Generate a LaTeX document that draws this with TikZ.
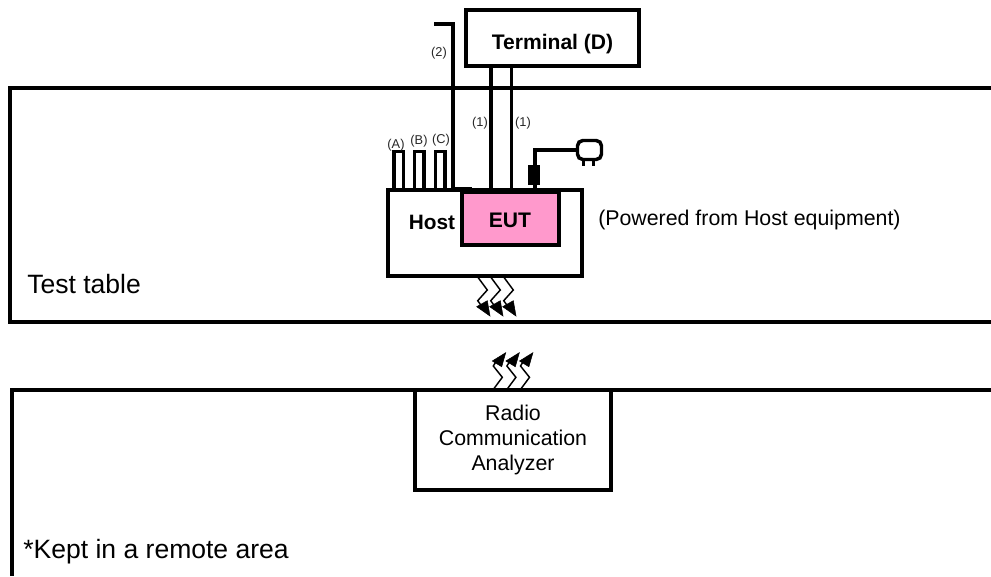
\documentclass[tikz,border=0pt]{standalone}
\usepackage{fontspec}
\setmainfont{Liberation Sans}
\definecolor{eutpink}{RGB}{255,153,204}
\tikzset{x=0.75pt,y=-0.75pt,
 frame/.style={draw=black,line width=3pt},
 cable/.style={draw=black,line width=2.6pt},
 small/.style={font=\fontsize{9.6pt}{11pt}\selectfont,inner sep=0pt,text=black!85},
 big/.style={font=\fontsize{19.9pt}{23pt}\selectfont,inner sep=0pt},
 mid/.style={font=\fontsize{16pt}{18.4pt}\selectfont,inner sep=0pt,align=center},
 bold/.style={inner sep=0pt,font=\fontsize{15.8pt}{18pt}\selectfont\bfseries},
 zig/.style={draw=black,line width=1.1pt},
 tipfill/.style={fill=black,draw=black,line width=0.4pt,line join=miter}}
\begin{document}
\begin{tikzpicture}
\useasboundingbox (0,0) rectangle (991,576);
% tables
\coordinate (t1) at (10,88);
\coordinate (t2) at (10,322);
\coordinate (t3) at (991,322);
\coordinate (t4) at (991,88);
\draw[frame] (t4) -- (t1) -- (t2) -- (t3);
\coordinate (r1) at (991,390);
\coordinate (r2) at (12,390);
\coordinate (r3) at (12,576);
\draw[frame] (r1) -- (r2) -- (r3);
\node[big,anchor=base west] (tt) at (27,293) {Test table};
\node[big,anchor=base west] (kept) at (23,558) {*Kept in a remote area};
% terminal
\node[frame,fill=white,minimum width=129.75pt,minimum height=42pt,inner sep=0pt] (term) at (552.5,38) {};
\node[bold,anchor=base] (terml) at (552.5,49) {Terminal (D)};
% host and eut
\node[frame,fill=white,minimum width=145.5pt,minimum height=64.5pt,inner sep=0pt] (host) at (484.5,233) {};
\node[frame,fill=eutpink,minimum width=72.75pt,minimum height=39.75pt,inner sep=0pt] (eut) at (510.5,218.5) {};
\node[bold,anchor=base] (eutl) at (510,227) {EUT};
\node[bold,anchor=base,font=\fontsize{15.6pt}{18pt}\selectfont\bfseries] (hostl) at (432,229) {Host};
% cables
\coordinate (c2a) at (434,24);
\coordinate (c2b) at (453,24);
\coordinate (c2c) at (453,189);
\coordinate (c2d) at (472,189);
\draw[cable] (c2a) -- (c2b) -- (c2c) -- (c2d);
\draw[cable] (term.south -| 491,0) -- (491,190);
\draw[cable] (term.south -| 511.5,0) -- (511.5,190);
% connectors A B C
\foreach \n/\x in {A/398.8,B/419.3,C/440.2}{
  \draw[cable] (\x-4.9,190) -- (\x-4.9,151.5) -- (\x+4.9,151.5) -- (\x+4.9,190);
}
\node[small] (la) at (396,145) {(A)};
\node[small] (lb) at (419,141) {(B)};
\node[small] (lc) at (441,140) {(C)};
\node[small] (l2) at (439,53) {(2)};
\node[small] (l1a) at (480,123) {(1)};
\node[small] (l1b) at (523,123) {(1)};
% power
\draw[cable] (535,190) -- (535,150) -- (577,150);
\fill[black] (528,165) rectangle (540,185);
\draw[frame,line width=2.6pt,rounded corners=4pt,fill=white] (577.5,140.5) rectangle (601.5,159.5);
\draw[cable] (583.5,159) -- (583.5,166);
\draw[cable] (593.5,159) -- (593.5,166);
\node[inner sep=0pt,font=\fontsize{16pt}{18pt}\selectfont,anchor=base west] (pow) at (598,225) {(Powered from Host equipment)};
% analyzer
\node[frame,fill=white,minimum width=147pt,minimum height=75pt,inner sep=0pt] (rca) at (513,440) {};
\node[mid,anchor=center] (rcal) at (513,440) {Radio\\Communication\\Analyzer};
% zigzags
\foreach \d in {0,13,26}{
  \draw[zig] (477.7+\d,277) -- (487.3+\d,290) -- (477.7+\d,300.7) -- (483+\d,308);
  \draw[tipfill] (476.7+\d,306.7) -- (487.3+\d,300.7) -- (490+\d,316) -- cycle;
}
\foreach \d in {0,13.6,27.2}{
  \draw[zig] (494+\d,388.5) -- (502.3+\d,377.3) -- (493.3+\d,366) -- (497+\d,360);
  \draw[tipfill] (492.3+\d,361) -- (501.7+\d,366.7) -- (505.7+\d,352.7) -- cycle;
}
\end{tikzpicture}
\end{document}
